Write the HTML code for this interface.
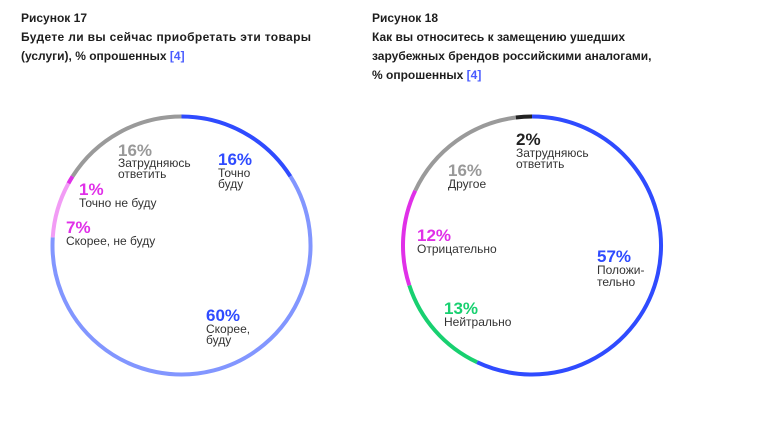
<!DOCTYPE html>
<html><head><meta charset="utf-8"><style>
html,body{margin:0;padding:0;background:#fff;}
svg{display:block;font-family:"Liberation Sans","Noto Sans CJK SC",sans-serif;}
.t{font-weight:bold;font-size:12px;fill:#1e1e1e;}
.p{font-weight:bold;font-size:17px;}
.l{font-size:12px;fill:#333;}
</style></head><body>
<svg id="svg" width="766" height="441" viewBox="0 0 766 441">
<g>
<text class="t" x="21" y="22">Рисунок 17</text>
<text class="t" x="21" y="41" textLength="290">Будете ли вы сейчас приобретать эти товары</text>
<text class="t" x="21" y="60">(услуги), % опрошенных <tspan fill="#4a5cff">[4]</tspan></text>
</g>
<g>
<text class="t" x="372" y="22">Рисунок 18</text>
<text class="t" x="372" y="41">Как вы относитесь к замещению ушедших</text>
<text class="t" x="372" y="60">зарубежных брендов российскими аналогами,</text>
<text class="t" x="372" y="79">% опрошенных <tspan fill="#4a5cff">[4]</tspan></text>
</g>
<g id="c1"></g>
<g id="c2"></g>
<g>
<text class="p" x="118" y="156" fill="#999">16%</text>
<text class="l" x="118" y="167">Затрудняюсь</text><text class="l" x="118" y="178">ответить</text>
<text class="p" x="218" y="165" fill="#2f4bff">16%</text>
<text class="l" x="218" y="177">Точно</text><text class="l" x="218" y="188">буду</text>
<text class="p" x="79" y="195" fill="#e030e8">1%</text>
<text class="l" x="79" y="207">Точно не буду</text>
<text class="p" x="66" y="233" fill="#e030e8">7%</text>
<text class="l" x="66" y="245">Скорее, не буду</text>
<text class="p" x="206" y="321" fill="#2f4bff">60%</text>
<text class="l" x="206" y="333">Скорее,</text><text class="l" x="206" y="344">буду</text>
</g>
<g>
<text class="p" x="516" y="145" fill="#222">2%</text>
<text class="l" x="516" y="157">Затрудняюсь</text><text class="l" x="516" y="168">ответить</text>
<text class="p" x="448" y="176" fill="#999">16%</text>
<text class="l" x="448" y="188">Другое</text>
<text class="p" x="417" y="241" fill="#e030e8">12%</text>
<text class="l" x="417" y="253">Отрицательно</text>
<text class="p" x="597" y="262" fill="#2f4bff">57%</text>
<text class="l" x="597" y="274">Положи-</text><text class="l" x="597" y="286">тельно</text>
<text class="p" x="444" y="314" fill="#18d070">13%</text>
<text class="l" x="444" y="326">Нейтрально</text>
</g>
</svg>
<script>
const cats17 = ["Точно буду","Скорее, буду","Скорее, не буду","Точно не буду","Затрудняюсь ответить"];
const vals17 = [16,60,7,1,16];
const cols17 = ["#2f4bff","#8296ff","#f29cf5","#e030e8","#9a9a9a"];
const cats18 = ["Положительно","Нейтрально","Отрицательно","Другое","Затрудняюсь ответить"];
const vals18 = [57,13,12,16,2];
const cols18 = ["#2f4bff","#18d070","#e030e8","#9a9a9a","#222222"];
const NS="http://www.w3.org/2000/svg";
function pt(cx,cy,r,f){const a=f*2*Math.PI;return [cx+r*Math.sin(a),cy-r*Math.cos(a)];}
function donut(g,cx,cy,r,vals,cols,cats){
  const tot=vals.reduce((a,b)=>a+b,0);let acc=0;
  vals.forEach((v,i)=>{
    const f0=acc/tot,f1=(acc+v)/tot;acc+=v;
    const [x0,y0]=pt(cx,cy,r,f0),[x1,y1]=pt(cx,cy,r,f1);
    const p=document.createElementNS(NS,"path");
    p.setAttribute("d",`M${x0} ${y0} A${r} ${r} 0 ${f1-f0>0.5?1:0} 1 ${x1} ${y1}`);
    p.setAttribute("fill","none");p.setAttribute("stroke",cols[i]);p.setAttribute("stroke-width","4");
    
    
    g.appendChild(p);
  });
}
donut(document.getElementById("c1"),181.5,245.5,129,vals17,cols17,cats17);
donut(document.getElementById("c2"),532,245.5,129,vals18,cols18,cats18);
</script>
</body></html>
